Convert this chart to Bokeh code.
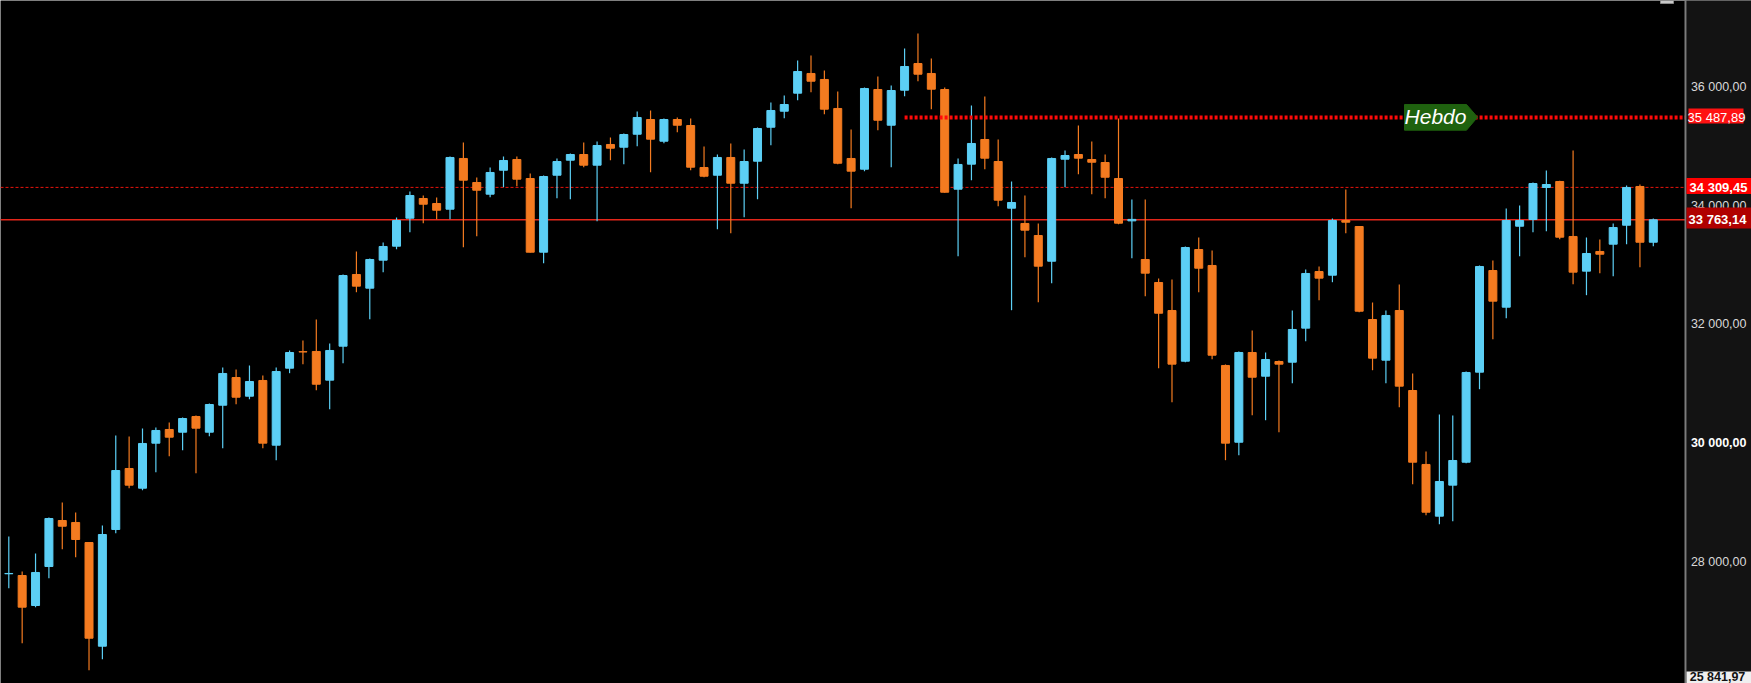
from bokeh.plotting import figure
from bokeh.models import ColumnDataSource, Range1d
from bokeh.embed import file_html
from bokeh.resources import INLINE
from bokeh.core.properties import value

# ---------------- data (daily candles) ----------------
opens = [27795, 27766, 27260, 27918, 28693, 28660, 28322, 26574, 28542, 29570,
         29238, 29997, 30228, 30182, 30447, 30182, 30637, 31104, 30789, 31054,
         29963, 31261, 31540, 31543, 31059, 31632, 32841, 32610, 33082, 33318,
         33790, 34122, 34038, 33942, 34797, 34392, 34195, 34599, 34780, 34459,
         33217, 34515, 34768, 34864, 34684, 35033, 34987, 35206, 35454, 35088,
         35454, 35353, 34645, 34515, 34814, 34380, 34751, 35324, 35594, 35898,
         36230, 36129, 35640, 34797, 34616, 35960, 35358, 35948, 36398, 36230,
         35960, 34279, 34701, 35117, 34746, 33959, 33701, 33498, 33065, 34785,
         34864, 34780, 34729, 34459, 33745, 33094, 32706, 32234, 31379, 33262,
         32993, 31307, 30013, 31526, 31126, 31374, 31362, 31936, 32891, 32829,
         33751, 33650, 32082, 31396, 32234, 30885, 29638, 28766, 29289, 29676,
         31194, 32908, 32290, 33655, 33768, 34308, 34409, 33482, 32897, 33229,
         33352, 33672, 34325, 33385]
highs = [28424, 27833, 28137, 28744, 28997, 28828, 28330, 28609, 30126, 30110,
         30244, 30261, 30346, 30430, 30464, 30666, 31273, 31239, 31307, 31138,
         31273, 31560, 31728, 32082, 31678, 32841, 33229, 33111, 33380, 33802,
         34240, 34173, 34139, 34830, 35066, 34476, 34645, 34830, 34830, 34544,
         34510, 34797, 34881, 35066, 35083, 35151, 35218, 35589, 35606, 35471,
         35488, 35471, 34999, 34864, 35050, 34948, 35319, 35741, 35859, 36449,
         36533, 36280, 35926, 35286, 35994, 36179, 36027, 36651, 36904, 36483,
         35994, 34797, 35690, 35842, 35117, 34409, 34173, 33701, 34814, 34932,
         35353, 35083, 34864, 35471, 34105, 34105, 32773, 32757, 33313, 33465,
         33246, 31324, 31543, 31897, 31526, 31391, 32234, 32925, 32976, 33785,
         34274, 33660, 32369, 32234, 32672, 31172, 29857, 30481, 30464, 31205,
         32993, 33077, 33954, 34004, 34392, 34594, 34420, 34932, 33465, 33431,
         33701, 34341, 34358, 33785]
lows = [27552, 26625, 27232, 27721, 28209, 28075, 26169, 26355, 28479, 29238,
        29204, 29508, 29777, 29879, 29491, 30115, 29912, 30654, 30738, 29912,
        29710, 31177, 31329, 30890, 30570, 31345, 32542, 32087, 32880, 33267,
        33554, 33706, 33773, 33773, 33301, 33487, 34144, 34313, 34330, 33210,
        33031, 34127, 34110, 34650, 33740, 34768, 34701, 35004, 34566, 35055,
        35240, 34599, 34481, 33605, 33537, 33807, 34110, 35021, 35476, 35780,
        35914, 35544, 34701, 33959, 34583, 35274, 34650, 35847, 36100, 35628,
        34220, 33149, 34431, 34616, 33992, 32239, 33133, 32374, 32694, 34313,
        34532, 34195, 34127, 33689, 33116, 32475, 31261, 30688, 31362, 32542,
        31413, 29710, 29794, 30469, 30384, 30182, 31008, 31716, 32408, 32711,
        33537, 32205, 31227, 31008, 30604, 29305, 28783, 28631, 28682, 29659,
        30907, 31750, 32104, 33149, 33554, 33571, 33436, 32677, 32492, 32863,
        32812, 33352, 32964, 33318]
closes = [27800, 27232, 27817, 28727, 28597, 28373, 26709, 28457, 29536, 29289,
          29992, 30211, 30098, 30413, 30250, 30649, 31172, 30772, 31037, 29997,
          31205, 31526, 31535, 30991, 31560, 32824, 32644, 33094, 33313, 33751,
          34173, 34026, 33925, 34814, 34431, 34262, 34561, 34763, 34448, 33217,
          34493, 34746, 34864, 34684, 35016, 34970, 35201, 35488, 35122, 35454,
          35358, 34650, 34498, 34814, 34380, 34746, 35302, 35606, 35707, 36263,
          36100, 35628, 34717, 34583, 35977, 35442, 35943, 36348, 36218, 35965,
          34228, 34696, 35050, 34802, 34094, 34055, 33588, 32981, 34797, 34847,
          34802, 34734, 34481, 33706, 33770, 32863, 32188, 31329, 33296, 32947,
          31480, 29997, 31526, 31109, 31408, 31329, 31914, 32858, 32779, 33751,
          33723, 32222, 31430, 32150, 30958, 29676, 28833, 29351, 29705, 31189,
          32976, 32391, 33751, 33751, 34375, 34358, 33470, 32880, 33195, 33183,
          33633, 34308, 33385, 33763.14]

tick_values = [36000, 34000, 32000, 28000, 26000]
tick_labels = ["36 000,00", "34 000,00", "32 000,00", "28 000,00", "26 000,00"]
bold_tick_value = 30000
bold_tick_label = "30 000,00"

weekly_level = 35487.89          # "Hebdo" level
weekly_level_label = "35 487,89"
weekly_start_bar = 67
prev_level = 34309.45
prev_level_label = "34 309,45"
last_price = 33763.14
last_price_label = "33 763,14"
range_low_label = "25 841,97"

UP = "#5ccff5"
DOWN = "#f47b20"

# ---------------- geometry helpers (screen layout) ----------------
W, H = 1751, 683
BAR_PX = 13.37          # pixels per bar
X0_PX = 8.3             # pixel of bar 0 center
VAL_PER_PX = 16.86      # price units per pixel
Y_TOP = 37460.5         # price at top edge
AXIS_PX = 1685          # left edge of the price-axis panel


def px2x(px):
    return (px - X0_PX) / BAR_PX


def px2y(py):
    return Y_TOP - py * VAL_PER_PX


def y2px(v):
    return (Y_TOP - v) / VAL_PER_PX


n = len(opens)
idx = list(range(n))
tops = [max(o, c) for o, c in zip(opens, closes)]
bots = [min(o, c) for o, c in zip(opens, closes)]
cols = [UP if c >= o else DOWN for o, c in zip(opens, closes)]

src = ColumnDataSource(dict(x=idx, o=opens, h=highs, l=lows, c=closes,
                            top=tops, bot=bots, col=cols))

p = figure(width=W, height=H, output_backend="svg", toolbar_location=None,
           x_range=Range1d(px2x(0), px2x(W)), y_range=Range1d(px2y(H), Y_TOP),
           min_border=0, min_border_left=0, min_border_right=0,
           min_border_top=0, min_border_bottom=0,
           background_fill_color="#000000", border_fill_color="#000000",
           outline_line_color=None)
p.xaxis.visible = False
p.yaxis.visible = False
p.grid.visible = False

# horizontal reference lines
p.segment(x0=[px2x(0)], y0=[prev_level], x1=[px2x(AXIS_PX)], y1=[prev_level],
          line_color="#e8140c", line_width=1, line_dash="3 2")
p.segment(x0=[px2x(0)], y0=[last_price], x1=[px2x(AXIS_PX)], y1=[last_price],
          line_color="#e3261a", line_width=1.4)

# candles
p.segment(x0="x", y0="h", x1="x", y1="l", source=src, line_color="col", line_width=1.2)
p.vbar(x="x", top="top", bottom="bot", width=8 / BAR_PX, source=src,
       fill_color="col", line_color="col", line_width=1)

# weekly level dotted line
p.segment(x0=[weekly_start_bar], y0=[weekly_level], x1=[px2x(AXIS_PX)], y1=[weekly_level],
          line_color="#ff0a0a", line_width=4, line_dash="3 2")

# "Hebdo" flag
ly = y2px(weekly_level)
flag_x = [px2x(1404), px2x(1466), px2x(1477), px2x(1466), px2x(1404)]
flag_y = [px2y(ly - 13), px2y(ly - 13), px2y(ly - 0.3), px2y(ly + 12.7), px2y(ly + 12.7)]
p.patch(flag_x, flag_y, fill_color="#1f620f", line_color="#1f620f")
p.text(x=[px2x(1435)], y=[px2y(ly - 0.5)], text=["Hebdo"], text_color="#ffffff",
       text_font=value("Liberation Sans"), text_font_style="italic",
       text_font_size="21px", text_align="center", text_baseline="middle")

# price axis panel
p.quad(left=[px2x(AXIS_PX + 1)], right=[px2x(W)], top=[Y_TOP], bottom=[px2y(H)],
       fill_color="#131313", line_color=None)
p.segment(x0=[px2x(AXIS_PX)], y0=[px2y(H)], x1=[px2x(AXIS_PX)], y1=[Y_TOP],
          line_color="#7c7c7c", line_width=2)

# small scroll button at the top right of the chart area
p.quad(left=[px2x(1660)], right=[px2x(1673)], top=[px2y(0)], bottom=[px2y(3)],
       fill_color="#c8c8c8", line_color="#8a8a8a", line_width=1)

p.text(x=[px2x(1746)] * len(tick_values), y=tick_values, text=tick_labels,
       text_color="#d8d8d8", text_font=value("Liberation Sans"),
       text_font_size="12.5px", text_align="right", text_baseline="middle")
p.text(x=[px2x(1746)], y=[bold_tick_value], text=[bold_tick_label],
       text_color="#ffffff", text_font=value("Liberation Sans"), text_font_style="bold",
       text_font_size="12.5px", text_align="right", text_baseline="middle")


# price tags
def tag(level, label, fill, txt_color, bold, left_px, right_px, half_up, half_dn, cx_px):
    py = y2px(level)
    p.quad(left=[px2x(left_px)], right=[px2x(right_px)], top=[px2y(py - half_up)],
           bottom=[px2y(py + half_dn)], fill_color=fill, line_color=None)
    p.text(x=[px2x(cx_px)], y=[level], text=[label], text_color=txt_color,
           text_font=value("Liberation Sans"),
           text_font_style="bold" if bold else "normal",
           text_font_size="13px", text_align="center", text_baseline="middle")


tag(weekly_level, weekly_level_label, "#ff1212", "#ffffff", False, 1688, 1743, 9, 6, 1716)
tag(prev_level, prev_level_label, "#ff0000", "#ffffff", True, 1686, W, 9.3, 6.7, 1718)
tag(last_price, last_price_label, "#b00000", "#ffffff", True, 1686, W, 12.3, 8.7, 1717)

# range-low tag at the bottom edge
p.quad(left=[px2x(1686)], right=[px2x(W)], top=[px2y(671)], bottom=[px2y(H)],
       fill_color="#efefef", line_color=None)
p.text(x=[px2x(1717)], y=[px2y(H)], text=[range_low_label], text_color="#111111",
       text_font=value("Liberation Sans"), text_font_style="bold",
       text_font_size="12.5px", text_align="center", text_baseline="bottom")

html = file_html(p, INLINE)
html = html.replace("<body>", '<body style="background-color:#000000;">', 1)
open("out.html", "w").write(html)
